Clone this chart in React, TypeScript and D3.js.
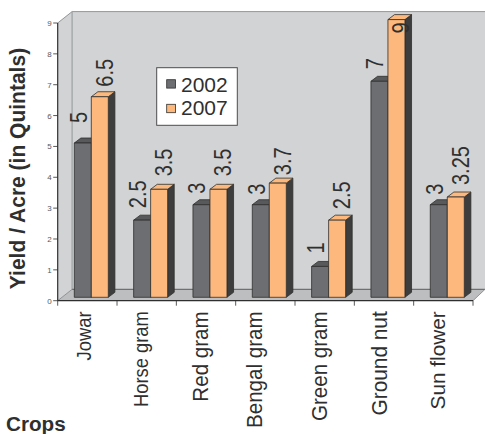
import React from "react";
import * as d3 from "d3";

const crops = ["Jowar", "Horse gram", "Red gram", "Bengal gram", "Green gram", "Ground nut", "Sun flower"];
const yield2002 = [5, 2.5, 3, 3, 1, 7, 3];
const yield2007 = [6.5, 3.5, 3.5, 3.7, 2.5, 9, 3.25];
const labels2002 = ["5", "2.5", "3", "3", "1", "7", "3"];
const labels2007 = ["6.5", "3.5", "3.5", "3.7", "2.5", "9", "3.25"];
const lift2002 = [20, 12, 11, 10, 13, 12, 10];
const lift2007 = [10, 13, 13, 8, 11, -14, 12];
const cropFont = [20.5, 19.5, 21.8, 21.8, 21.8, 21.8, 21];
const cropStretch = [0.9, 0.94, 0.945, 0.945, 0.945, 0.955, 0.99];
const cropBaseline = [33, 31.3, 32, 26.7, 31.6, 32.3, 31.6];
const yTicks = [0, 1, 2, 3, 4, 5, 6, 7, 8, 9];

const FONT = "'Liberation Sans', Arial, sans-serif";
const X0 = 57.7, X1 = 473, Y0 = 300.7, Y9 = 23;
const DX = 14.4, DY = 11.4;
const BX = 6.6, BY = 5;
const BW = 17;
const BASE_SHIFT = 3.4;

const x = d3.scaleBand<string>().domain(crops).range([X0, X1]).paddingInner(0).paddingOuter(0);
const y = d3.scaleLinear().domain([0, 9]).range([Y0, Y9]);

function Bar({ left, value, face, top, side }: { left: number; value: number; face: string; top: string; side: string }) {
  const b = y(0) - BASE_SHIFT;
  const t = y(value) - BASE_SHIFT;
  const r = left + BW;
  const stroke = "#2f2f2f";
  return (
    <g stroke={stroke} strokeWidth={0.8} strokeLinejoin="round">
      <polygon points={`${r},${t} ${r + BX},${t - BY} ${r + BX},${b - BY} ${r},${b}`} fill={side} />
      <polygon points={`${left},${t} ${left + BX},${t - BY} ${r + BX},${t - BY} ${r},${t}`} fill={top} />
      <rect x={left} y={t} width={BW} height={b - t} fill={face} />
    </g>
  );
}

export default function App() {
  const lefts = (i: number) => (x(crops[i]) as number) + 16.6;
  return (
    <svg width={485} height={434} style={{ position: "absolute", left: 0, top: 0, background: "#fff" }} fontFamily={FONT}>
      <polygon points={`${X0},${Y9} ${X0 + DX},${Y9 - DY} ${X0 + DX},${Y0 - DY} ${X0},${Y0}`} fill="#d1d3d4" />
      <rect x={X0 + DX} y={Y9 - DY} width={485 - X0 - DX} height={Y0 - Y9} fill="#d1d3d4" />
      <polygon points={`${X0},${Y0} ${X0 + DX},${Y0 - DY} 485,${Y0 - DY} ${X1},${Y0}`} fill="#bcbec0" />
      <line x1={X0} y1={Y9} x2={X0 + DX} y2={Y9 - DY} stroke="#939598" strokeWidth={1} />
      <line x1={X0 + DX} y1={Y9 - DY} x2={485} y2={Y9 - DY} stroke="#939598" strokeWidth={1} />
      <line x1={X0 + DX} y1={Y9 - DY} x2={X0 + DX} y2={Y0 - DY} stroke="#939598" strokeWidth={1} />
      <line x1={X0 + DX} y1={Y0 - DY} x2={485} y2={Y0 - DY} stroke="#58595b" strokeWidth={1} />
      <line x1={X0} y1={Y0} x2={X0 + DX} y2={Y0 - DY} stroke="#808285" strokeWidth={0.8} />
      <line x1={X1} y1={Y0} x2={485} y2={Y0 - DY} stroke="#808285" strokeWidth={0.8} />

      {crops.map((c, i) => (
        <g key={c}>
          <Bar left={lefts(i)} value={yield2002[i]} face="#6d6e71" top="#58595b" side="#3d3d3d" />
          <Bar left={lefts(i) + BW} value={yield2007[i]} face="#fdb97d" top="#fdb97d" side="#3d3d3d" />
        </g>
      ))}

      <line x1={X0} y1={Y9} x2={X0} y2={Y0} stroke="#2f2f2f" strokeWidth={1.2} />
      <line x1={X0} y1={Y0} x2={X1} y2={Y0} stroke="#2f2f2f" strokeWidth={1.2} />
      {yTicks.map((t) => (
        <g key={t}>
          <line x1={X0 - 4.5} x2={X0} y1={y(t)} y2={y(t)} stroke="#2f2f2f" strokeWidth={0.8} />
          <text x={X0 - 6} y={y(t) + 3} textAnchor="end" fontSize={8} fill="#58595b">{t}</text>
        </g>
      ))}
      {[...crops.map((c) => x(c) as number), X1].map((p) => (
        <line key={p} x1={p} x2={p} y1={Y0} y2={Y0 + 5} stroke="#2f2f2f" strokeWidth={0.8} />
      ))}

      {crops.map((c, i) => {
        const l = lefts(i);
        const t2 = y(yield2002[i]) - BASE_SHIFT - lift2002[i];
        const t7 = y(yield2007[i]) - BASE_SHIFT - lift2007[i];
        const lx = (x(c) as number) + cropBaseline[i];
        return (
          <g key={c} fill="#2f2f2f">
            <text transform={`translate(${l + 12.5},${t2}) rotate(-90) scale(0.87,1)`} fontSize={23}>{labels2002[i]}</text>
            <text transform={`translate(${l + BW + 21.5},${t7}) rotate(-90) scale(0.87,1)`} fontSize={23}>{labels2007[i]}</text>
            <text transform={`translate(${lx},${311.3}) rotate(-90) scale(${cropStretch[i]},1)`} textAnchor="end" fontSize={cropFont[i]}>{c}</text>
          </g>
        );
      })}

      <rect x={156.7} y={67.7} width={80.6} height={57.6} fill="#fff" stroke="#4d4d4f" strokeWidth={1} />
      <rect x={166.7} y={79.7} width={8.8} height={8.4} fill="#6d6e71" stroke="#2f2f2f" strokeWidth={0.8} />
      <rect x={166.7} y={104.3} width={8.8} height={8.4} fill="#fdb97d" stroke="#2f2f2f" strokeWidth={0.8} />
      <text x={181} y={92} fontSize={21} fill="#2f2f2f">2002</text>
      <text x={181} y={114.7} fontSize={21} fill="#2f2f2f">2007</text>

      <text transform="translate(25,168.5) rotate(-90) scale(0.96,1)" textAnchor="middle" fontSize={21.9} fontWeight="bold" fill="#2f2f2f">Yield / Acre (in Quintals)</text>
      <text transform="translate(6,430.5) scale(1.06,1)" fontSize={19.5} fontWeight="bold" fill="#2f2f2f">Crops</text>
    </svg>
  );
}
